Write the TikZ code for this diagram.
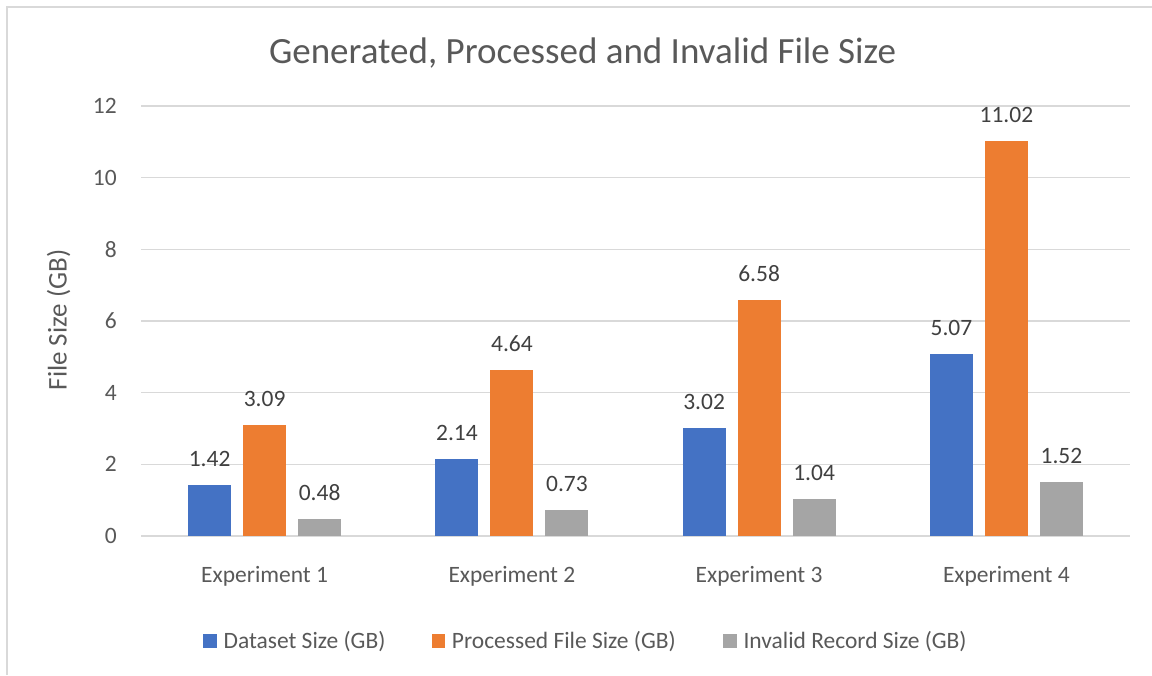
\documentclass[tikz,border=0pt]{standalone}
\usepackage{fontspec}
\setmainfont{Carlito}
\definecolor{barblue}{HTML}{4472C4}
\definecolor{barorange}{HTML}{ED7D31}
\definecolor{bargray}{HTML}{A5A5A5}
\definecolor{gridgray}{HTML}{D9D9D9}
\definecolor{axistext}{HTML}{595959}
\definecolor{valtext}{HTML}{404040}
\begin{document}
\begin{tikzpicture}[x=0.75pt, y=-0.75pt,
  ticklabel/.style={anchor=east, inner sep=0, text=axistext, font=\fontsize{17.6pt}{20pt}\selectfont},
  catlabel/.style={anchor=base, inner sep=0, text=axistext, font=\fontsize{17.6pt}{20pt}\selectfont},
  vallabel/.style={anchor=south, inner sep=0, yshift=13.5pt, text=valtext, font=\fontsize{17.6pt}{20pt}\selectfont},
  legtext/.style={anchor=base west, inner sep=0, text=axistext, font=\fontsize{17.6pt}{20pt}\selectfont},
  gridline/.style={draw=gridgray, line width=0.9pt}]
\useasboundingbox (0,0) rectangle (1152,675);
\fill[white] (0,0) rectangle (1152,675);
\draw[gridgray, line width=1.5pt] (7,675) -- (7,7) -- (1152,7);

\node[anchor=base, inner sep=0, text=axistext, font=\fontsize{27.75pt}{32pt}\selectfont] at (582.5,63.5) (title) {Generated, Processed and Invalid File Size};
\node[anchor=base, inner sep=0, rotate=90, text=axistext, font=\fontsize{20.25pt}{24pt}\selectfont] at (66.5,320) (ytitle) {File Size (GB)};

\begin{scope}[shift={(0,536)}, y=26.875pt]
% grid and ticks
\draw[gridline] (141,0) -- (1130,0);
\draw[gridline] (141,2) -- (1130,2);
\draw[gridline] (141,4) -- (1130,4);
\draw[gridline] (141,6) -- (1130,6);
\draw[gridline] (141,8) -- (1130,8);
\draw[gridline] (141,10) -- (1130,10);
\draw[gridline] (141,12) -- (1130,12);
\node[ticklabel] at (117,0) (t0) {0};
\node[ticklabel] at (117,2) (t2) {2};
\node[ticklabel] at (117,4) (t4) {4};
\node[ticklabel] at (117,6) (t6) {6};
\node[ticklabel] at (117,8) (t8) {8};
\node[ticklabel] at (117,10) (t10) {10};
\node[ticklabel] at (117,12) (t12) {12};

% bars
\fill[barblue] (188.1,0) rectangle (231.1,1.42);
\fill[barorange] (243.1,0) rectangle (286.1,3.09);
\fill[bargray] (298.1,0) rectangle (341.1,0.48);
\fill[barblue] (435.4,0) rectangle (478.4,2.14);
\fill[barorange] (490.4,0) rectangle (533.4,4.64);
\fill[bargray] (545.4,0) rectangle (588.4,0.73);
\fill[barblue] (682.6,0) rectangle (725.6,3.02);
\fill[barorange] (737.6,0) rectangle (780.6,6.58);
\fill[bargray] (792.6,0) rectangle (835.6,1.04);
\fill[barblue] (929.9,0) rectangle (972.9,5.07);
\fill[barorange] (984.9,0) rectangle (1027.9,11.02);
\fill[bargray] (1039.9,0) rectangle (1082.9,1.52);

% values
\node[vallabel] at (209.6,1.42) (v11) {1.42};
\node[vallabel] at (264.6,3.09) (v12) {3.09};
\node[vallabel] at (319.6,0.48) (v13) {0.48};
\node[vallabel] at (456.9,2.14) (v21) {2.14};
\node[vallabel] at (511.9,4.64) (v22) {4.64};
\node[vallabel] at (566.9,0.73) (v23) {0.73};
\node[vallabel] at (704.1,3.02) (v31) {3.02};
\node[vallabel] at (759.1,6.58) (v32) {6.58};
\node[vallabel] at (814.1,1.04) (v33) {1.04};
\node[vallabel] at (951.4,5.07) (v41) {5.07};
\node[vallabel] at (1006.4,11.02) (v42) {11.02};
\node[vallabel] at (1061.4,1.52) (v43) {1.52};
\end{scope}

\node[catlabel] at (264.6,582.7) (c1) {Experiment 1};
\node[catlabel] at (511.9,582.7) (c2) {Experiment 2};
\node[catlabel] at (759.1,582.7) (c3) {Experiment 3};
\node[catlabel] at (1006.4,582.7) (c4) {Experiment 4};

% legend
\fill[barblue] (203.3,634.3) rectangle (216.7,647.7);
\node[legtext] at (223.3,648) (l1) {Dataset Size (GB)};
\fill[barorange] (431.7,634.3) rectangle (445,647.7);
\node[legtext] at (451.7,648) (l2) {Processed File Size (GB)};
\fill[bargray] (723.3,634.3) rectangle (736.7,647.7);
\node[legtext] at (743.3,648) (l3) {Invalid Record Size (GB)};
\end{tikzpicture}
\end{document}
